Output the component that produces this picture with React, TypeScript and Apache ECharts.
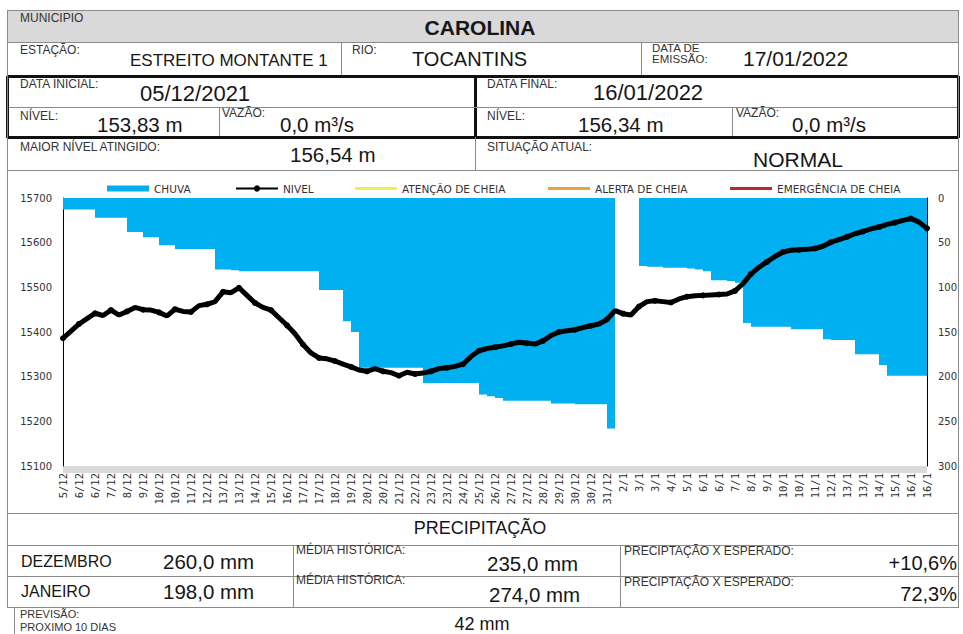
import React, { useEffect, useRef } from "react";
import * as echarts from "echarts";

// Axis tick labels (one every second sample)
const dayLabels = [
  "5/12", "6/12", "6/12", "7/12", "8/12", "9/12", "10/12", "10/12", "11/12", "12/12",
  "13/12", "13/12", "14/12", "15/12", "16/12", "17/12", "17/12", "18/12", "19/12", "20/12",
  "20/12", "21/12", "22/12", "23/12", "23/12", "24/12", "25/12", "26/12", "27/12", "27/12",
  "28/12", "29/12", "30/12", "30/12", "31/12", "2/1", "3/1", "3/1", "4/1", "5/1",
  "6/1", "6/1", "7/1", "8/1", "9/1", "10/1", "10/1", "11/1", "12/1", "13/1",
  "13/1", "14/1", "15/1", "16/1", "16/1",
];

// NIVEL (cm) - 109 samples
const nivel = [
  15386, 15402, 15418, 15430, 15442, 15437, 15449, 15438, 15446, 15455,
  15450, 15449, 15444, 15436, 15451, 15446, 15445, 15459, 15462, 15468,
  15490, 15488, 15499, 15482, 15465, 15455, 15449, 15432, 15415, 15396,
  15372, 15353, 15342, 15340, 15335, 15328, 15322, 15315, 15312, 15318,
  15312, 15309, 15302, 15310, 15306, 15308, 15312, 15318, 15320, 15323,
  15328, 15345, 15358, 15363, 15366, 15369, 15373, 15377, 15375, 15373,
  15380, 15392, 15400, 15403, 15405, 15410, 15414, 15418, 15428, 15448,
  15441, 15438, 15457, 15468, 15470, 15468, 15466, 15474, 15479, 15481,
  15482, 15483, 15484, 15485, 15492, 15508, 15530, 15545, 15557, 15569,
  15579, 15583, 15584, 15585, 15587, 15592, 15601, 15607, 15613, 15620,
  15625, 15631, 15635, 15641, 15645, 15650, 15654, 15646, 15632,
];

// CHUVA acumulada (mm) - 109 samples
const chuva = [
  13, 13, 13, 13, 22, 22, 22, 22, 38, 38,
  44, 44, 53, 53, 57, 57, 57, 57, 57, 80,
  80, 81, 82, 82, 82, 82, 82, 82, 82, 82,
  82, 82, 103, 103, 103, 138, 150, 190, 190, 190,
  190, 190, 190, 190, 190, 207, 207, 207, 207, 207,
  207, 207, 220, 222, 224, 227, 227, 227, 227, 227,
  227, 230, 230, 230, 231, 231, 231, 231, 258, 0,
  0, 0, 76, 77, 77, 78, 78, 78, 79, 80,
  82, 92, 92, 93, 95, 140, 144, 144, 144, 144,
  144, 147, 147, 147, 147, 158, 159, 159, 159, 175,
  175, 175, 187, 199, 199, 199, 199, 199, 209,
];

const atencao: number[] = [];
const alerta: number[] = [];
const emergencia: number[] = [];

const leftTicks = { min: 15100, max: 15700, interval: 100 };
const rightTicks = { min: 0, max: 300, interval: 50 };

const FONT = "'Liberation Sans', Arial, sans-serif";
const GRID_LINE = "#8a8a8a";
const DARK = "#161616";

function hl(x1: number, x2: number, y: number, w = 1, c = GRID_LINE) {
  return { type: "line", silent: true, shape: { x1, y1: y, x2, y2: y }, style: { stroke: c, lineWidth: w } };
}
function vl(x: number, y1: number, y2: number, w = 1, c = GRID_LINE) {
  return { type: "line", silent: true, shape: { x1: x, y1, x2: x, y2 }, style: { stroke: c, lineWidth: w } };
}
function tx(
  x: number,
  y: number,
  text: string,
  size: number,
  align: string = "left",
  color: string = DARK,
  weight: string = "normal"
) {
  return {
    type: "text",
    silent: true,
    x,
    y,
    style: {
      text,
      fill: color,
      font: `${weight} ${size}px ${FONT}`,
      textAlign: align,
      textVerticalAlign: "middle",
    },
  };
}

export default function App() {
  const ref = useRef<HTMLDivElement>(null);

  useEffect(() => {
    if (!ref.current) return;
    const chart = echarts.init(ref.current, undefined, { renderer: "svg" });
    const categories = nivel.map((_, i) => dayLabels[Math.floor(i / 2)]);
    const small = "#333";

    const elements: any[] = [
      // row 1 background
      { type: "rect", silent: true, shape: { x: 7, y: 10, width: 952, height: 32 }, style: { fill: "#d9d9d9" } },
      // grey band below the plot area
      { type: "rect", silent: true, shape: { x: 63, y: 466, width: 864, height: 7 }, style: { fill: "#d9d9d9" } },
      hl(7, 959, 10.5),
      hl(7, 959, 42.5),
      vl(341.5, 42, 76),
      vl(641.5, 42, 76),
      hl(7, 959, 76.5, 3, "#111"),
      vl(475.5, 76, 137, 3, "#111"),
      hl(7, 959, 107.5),
      vl(219.5, 107, 137),
      vl(732.5, 107, 137),
      hl(7, 959, 137.5, 3, "#111"),
      vl(7.5, 76, 138, 3, "#111"),
      vl(958.5, 76, 138, 3, "#111"),
      vl(475.5, 137, 170),
      hl(7, 959, 170.5),
      vl(7.5, 10, 607),
      vl(958.5, 10, 607),
      vl(14.5, 607, 634),
      hl(7, 959, 513.5),
      hl(7, 959, 545.5),
      hl(7, 959, 576.5),
      hl(7, 959, 607.5),
      vl(293.5, 545, 607),
      vl(620.5, 545, 607),

      // header texts
      tx(20, 18, "MUNICIPIO", 12, "left", small),
      tx(480, 27, "CAROLINA", 21, "center", DARK, "bold"),
      tx(20, 50, "ESTAÇÃO:", 12, "left", small),
      tx(130, 60, "ESTREITO MONTANTE 1", 17),
      tx(352, 50, "RIO:", 12, "left", small),
      tx(412, 59, "TOCANTINS", 20),
      tx(652, 48, "DATA DE", 11.5, "left", small),
      tx(652, 59, "EMISSÃO:", 11.5, "left", small),
      tx(743, 58, "17/01/2022", 21),
      tx(20, 84, "DATA INICIAL:", 12, "left", small),
      tx(140, 93, "05/12/2021", 22),
      tx(487, 84, "DATA FINAL:", 12, "left", small),
      tx(593, 92, "16/01/2022", 22),
      tx(20, 116, "NÍVEL:", 12, "left", small),
      tx(97, 124, "153,83 m", 20.5),
      tx(222, 113, "VAZÃO:", 12, "left", small),
      tx(280, 124, "0,0 m³/s", 20.5),
      tx(487, 116, "NÍVEL:", 12, "left", small),
      tx(578, 124, "156,34 m", 20.5),
      tx(736, 113, "VAZÃO:", 12, "left", small),
      tx(792, 124, "0,0 m³/s", 20.5),
      tx(20, 147, "MAIOR NÍVEL ATINGIDO:", 12, "left", small),
      tx(290, 154, "156,54 m", 20.5),
      tx(487, 147, "SITUAÇÃO ATUAL:", 12, "left", small),
      tx(753, 159, "NORMAL", 21),

      // precipitation table
      tx(480, 528, "PRECIPITAÇÃO", 18, "center"),
      tx(21, 561, "DEZEMBRO", 16),
      tx(163, 561, "260,0 mm", 20.5),
      tx(296, 550, "MÉDIA HISTÓRICA:", 12, "left", small),
      tx(487, 563, "235,0 mm", 20.5),
      tx(624, 551, "PRECIPTAÇÃO X ESPERADO:", 12, "left", small),
      tx(957, 563, "+10,6%", 20, "right"),
      tx(21, 591, "JANEIRO", 16),
      tx(163, 591, "198,0 mm", 20.5),
      tx(296, 580, "MÉDIA HISTÓRICA:", 12, "left", small),
      tx(489, 594, "274,0 mm", 20.5),
      tx(624, 582, "PRECIPTAÇÃO X ESPERADO:", 12, "left", small),
      tx(957, 594, "72,3%", 20, "right"),
      tx(20, 614, "PREVISÃO:", 11, "left", small),
      tx(20, 627, "PROXIMO 10 DIAS", 11, "left", small),
      tx(482, 624, "42 mm", 18, "center"),
    ];

    const legendText = { fontFamily: "'DejaVu Sans', sans-serif", fontSize: 10.5, color: "#333" };
    const legendBase = { top: 178, itemWidth: 42, itemHeight: 6, itemGap: 0, textStyle: legendText, selectedMode: false };

    chart.setOption({
      animation: false,
      backgroundColor: "#ffffff",
      graphic: { elements },
      legend: [
        { ...legendBase, left: 102, data: [{ name: "CHUVA", icon: "rect" }] },
        { ...legendBase, left: 230, itemHeight: 8, data: ["NIVEL"] },
        { ...legendBase, left: 350, itemHeight: 3, data: [{ name: "ATENÇÃO DE CHEIA", icon: "rect" }] },
        { ...legendBase, left: 543, itemHeight: 3, data: [{ name: "ALERTA DE CHEIA", icon: "rect" }] },
        { ...legendBase, left: 725, itemHeight: 3, data: [{ name: "EMERGÊNCIA DE CHEIA", icon: "rect" }] },
      ],
      grid: { left: 63, right: 36, top: 198, bottom: 168, containLabel: false },
      xAxis: {
        type: "category",
        data: categories,
        boundaryGap: false,
        axisLine: { show: false, onZero: false },
        axisTick: { show: false },
        splitLine: { show: false },
        axisLabel: {
          interval: 1,
          rotate: 90,
          margin: 7,
          fontFamily: "'DejaVu Sans Mono', monospace",
          fontSize: 10.5,
          color: "#333",
        },
      },
      yAxis: [
        {
          type: "value",
          ...leftTicks,
          position: "left",
          axisLine: { show: true, lineStyle: { color: "#000", width: 1 } },
          axisTick: { show: false },
          splitLine: { show: false },
          axisLabel: {
            margin: 11,
            fontFamily: "'DejaVu Sans', sans-serif",
            fontSize: 10,
            color: "#333",
            formatter: (v: number) => String(v),
          },
        },
        {
          type: "value",
          ...rightTicks,
          inverse: true,
          position: "right",
          axisLine: { show: true, lineStyle: { color: "#000", width: 1 } },
          axisTick: { show: false },
          splitLine: { show: false },
          axisLabel: {
            margin: 11,
            fontFamily: "'DejaVu Sans', sans-serif",
            fontSize: 10,
            color: "#333",
            formatter: (v: number) => String(v),
          },
        },
      ],
      series: [
        {
          name: "CHUVA",
          type: "line",
          yAxisIndex: 1,
          data: chuva,
          step: "end",
          showSymbol: false,
          symbol: "none",
          color: "#00B0F0",
          lineStyle: { width: 0, color: "#00B0F0" },
          areaStyle: { color: "#00B0F0", opacity: 1, origin: "start" },
          z: 2,
        },
        {
          name: "NIVEL",
          type: "line",
          yAxisIndex: 0,
          data: nivel,
          color: "#000",
          symbol: "circle",
          symbolSize: 6,
          showSymbol: true,
          itemStyle: { color: "#000" },
          lineStyle: { width: 5, color: "#000" },
          z: 4,
        },
        { name: "ATENÇÃO DE CHEIA", type: "line", data: atencao, symbol: "none", color: "#F5EE4A", lineStyle: { width: 3, color: "#F5EE4A" } },
        { name: "ALERTA DE CHEIA", type: "line", data: alerta, symbol: "none", color: "#E8A33B", lineStyle: { width: 3, color: "#E8A33B" } },
        { name: "EMERGÊNCIA DE CHEIA", type: "line", data: emergencia, symbol: "none", color: "#C0262C", lineStyle: { width: 3, color: "#C0262C" } },
      ],
    });

    return () => chart.dispose();
  }, []);

  return (
    <div
      ref={ref}
      style={{ position: "absolute", left: 0, top: 0, width: 963, height: 634, background: "#fff" }}
    />
  );
}
